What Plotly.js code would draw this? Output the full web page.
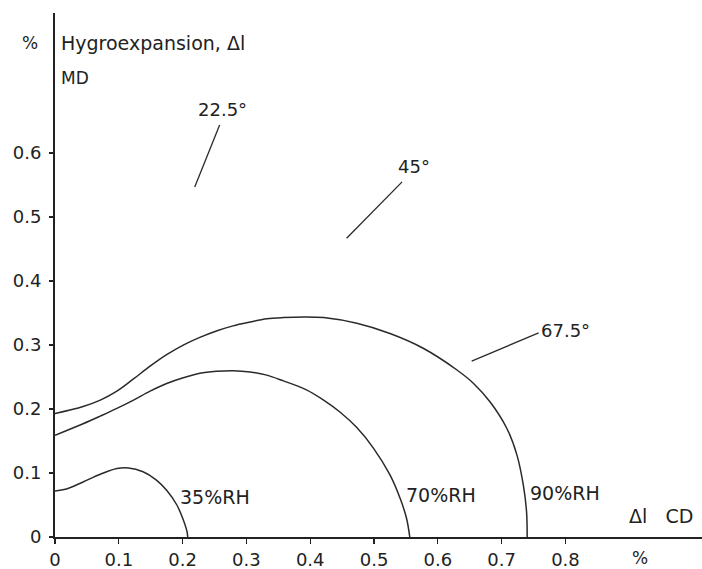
<!DOCTYPE html>
<html>
<head>
<meta charset="utf-8">
<script src="https://cdn.plot.ly/plotly-3.0.1.min.js"></script>
<style>html,body{margin:0;padding:0;background:#fff;}#chart{width:702px;height:569px;}</style>
</head>
<body>
<div id="chart"></div>
<script>
// Hygroexpansion curves: CD expansion (x, %) vs MD expansion (y, %)
const rh35_x = [0, 0.018, 0.044, 0.071, 0.097, 0.115, 0.138, 0.159, 0.175, 0.191, 0.201, 0.207, 0.208];
const rh35_y = [0.072, 0.075, 0.086, 0.098, 0.107, 0.108, 0.102, 0.089, 0.073, 0.05, 0.027, 0.008, 0];

const rh70_x = [0, 0.044, 0.071, 0.097, 0.123, 0.149, 0.175, 0.201, 0.227, 0.253, 0.279, 0.306, 0.332, 0.358, 0.394, 0.421, 0.447, 0.473, 0.499, 0.525, 0.541, 0.551, 0.556];
const rh70_y = [0.159, 0.177, 0.189, 0.201, 0.214, 0.228, 0.24, 0.249, 0.256, 0.259, 0.26, 0.258, 0.253, 0.244, 0.23, 0.214, 0.195, 0.171, 0.139, 0.097, 0.06, 0.029, 0];

const rh90_x = [0, 0.044, 0.071, 0.097, 0.123, 0.149, 0.175, 0.201, 0.227, 0.253, 0.279, 0.306, 0.332, 0.358, 0.39, 0.421, 0.473, 0.525, 0.577, 0.63, 0.656, 0.682, 0.708, 0.724, 0.734, 0.739, 0.74];
const rh90_y = [0.193, 0.204, 0.214, 0.228, 0.247, 0.267, 0.285, 0.3, 0.312, 0.322, 0.33, 0.336, 0.341, 0.343, 0.344, 0.343, 0.334, 0.318, 0.295, 0.261, 0.24, 0.211, 0.17, 0.128, 0.081, 0.04, 0];

const xTickVals = [0, 0.1, 0.2, 0.3, 0.4, 0.5, 0.6, 0.7, 0.8];
const xTickText = ["0", "0.1", "0.2", "0.3", "0.4", "0.5", "0.6", "0.7", "0.8"];
const yTickVals = [0, 0.1, 0.2, 0.3, 0.4, 0.5, 0.6];
const yTickText = ["0", "0.1", "0.2", "0.3", "0.4", "0.5", "0.6"];

const curveNames = ["35%RH", "70%RH", "90%RH"];

const FONT = "DejaVu Sans, sans-serif";
const INK = "#222";
const lineStyle = {color: "#2a2a2a", width: 1.5, shape: "spline", smoothing: 1.0};

const traces = [
  {x: rh35_x, y: rh35_y, name: curveNames[0], mode: "lines", line: lineStyle, hoverinfo: "skip"},
  {x: rh70_x, y: rh70_y, name: curveNames[1], mode: "lines", line: lineStyle, hoverinfo: "skip"},
  {x: rh90_x, y: rh90_y, name: curveNames[2], mode: "lines", line: lineStyle, hoverinfo: "skip"}
];

function ann(x, y, text, extra) {
  return Object.assign({x: x, y: y, xref: "x", yref: "y", text: text, showarrow: false,
    xanchor: "center", yanchor: "middle",
    font: {family: FONT, size: 18, color: INK}}, extra || {});
}
function seg(x0, y0, x1, y1) {
  return {type: "line", xref: "x", yref: "y", x0: x0, y0: y0, x1: x1, y1: y1,
    line: {color: "#2a2a2a", width: 1.3}};
}

const layout = {
  width: 702, height: 569,
  margin: {l: 55, r: 0, t: 13, b: 32, pad: 0},
  paper_bgcolor: "#fff", plot_bgcolor: "#fff",
  showlegend: false,
  font: {family: FONT, size: 18, color: INK},
  xaxis: {
    range: [0, 1.014], showgrid: false, zeroline: false,
    showline: true, linecolor: "#222", linewidth: 2,
    ticks: "outside", ticklen: 5, tickwidth: 1.3, tickcolor: "#222",
    tickvals: xTickVals, ticktext: xTickText,
    tickfont: {family: FONT, size: 18, color: INK}
  },
  yaxis: {
    range: [0, 0.819], showgrid: false, zeroline: false,
    showline: true, linecolor: "#222", linewidth: 2,
    ticks: "outside", ticklen: 4, tickwidth: 1.3, tickcolor: "#222",
    ticklabelstandoff: 4,
    tickvals: yTickVals, ticktext: yTickText,
    tickfont: {family: FONT, size: 18, color: INK}
  },
  annotations: [
    {xref: "paper", yref: "paper", x: -0.039, y: 0.943, xanchor: "center", yanchor: "middle",
     text: "%", showarrow: false, font: {family: FONT, size: 17, color: INK}},
    {xref: "x", yref: "paper", x: 0.007, y: 0.943, xanchor: "left", yanchor: "middle",
     text: "Hygroexpansion, Δl", showarrow: false, font: {family: FONT, size: 19, color: INK}},
    {xref: "x", yref: "paper", x: 0.007, y: 0.876, xanchor: "left", yanchor: "middle",
     text: "MD", showarrow: false, font: {family: FONT, size: 17, color: INK}},
    ann(0.262, 0.668, "22.5°"),
    ann(0.562, 0.579, "45°"),
    ann(0.8, 0.322, "67.5°"),
    ann(0.193, 0.0625, curveNames[0], {xanchor: "left", font: {family: FONT, size: 19, color: INK}}),
    ann(0.547, 0.066, curveNames[1], {xanchor: "left", font: {family: FONT, size: 19, color: INK}}),
    ann(0.741, 0.069, curveNames[2], {xanchor: "left", font: {family: FONT, size: 19, color: INK}}),
    ann(0.95, 0.033, "Δl   CD", {font: {family: FONT, size: 19, color: INK}}),
    {xref: "x", yref: "paper", x: 0.917, y: -0.04, xanchor: "center", yanchor: "middle",
     text: "%", showarrow: false, font: {family: FONT, size: 17, color: INK}}
  ],
  shapes: [
    seg(0.258, 0.644, 0.219, 0.547),
    seg(0.544, 0.555, 0.457, 0.467),
    seg(0.758, 0.319, 0.653, 0.275)
  ]
};

Plotly.newPlot("chart", traces, layout, {displayModeBar: false, staticPlot: true});
</script>
</body>
</html>
